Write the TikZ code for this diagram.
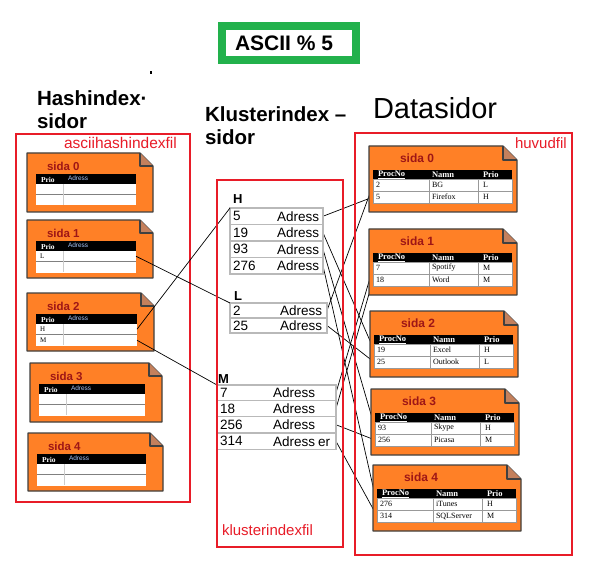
\documentclass[tikz,border=0pt]{standalone}
\usepackage{fontspec}
\setmainfont{Liberation Serif}
\setsansfont{Liberation Sans}
\usetikzlibrary{backgrounds}
\definecolor{pageor}{RGB}{255,128,38}
\definecolor{foldc}{RGB}{196,128,92}
\definecolor{pagegray}{RGB}{64,64,64}
\definecolor{sidared}{RGB}{158,22,22}
\definecolor{boxred}{RGB}{232,28,40}
\definecolor{grn}{RGB}{34,177,76}
\definecolor{adrblue}{RGB}{165,195,245}
\def\splitrow#1/#2/#3\endrow{\def\ca{#1}\def\cb{#2}\def\cc{#3}}
% hash page: name, x, y, w, h, label, row1, row2
\newcommand\hpg[8]{%
\begin{scope}[shift={(#2,#3)}]
 \draw[pageline,fill=pageor] (0,0) -- (#4-13,0) -- (#4,13) -- (#4,#5) -- (0,#5) -- cycle;
 \draw[pageline,fill=foldc] (#4-13,0) -- (#4-13,13) -- (#4,13);
 \node[hsida] (#1l) at (20,13) {#6};
 \node[fill=black,anchor=north west,minimum width=(#4-26)*1pt,minimum height=10pt] (#1h) at (9,21) {};
 \node[font=\bfseries\fontsize{7.5}{8}\selectfont,text=white,anchor=west] (#1hp) at (14,26.5) {Prio};
 \node[font=\sffamily\fontsize{6.5}{7}\selectfont,text=adrblue,anchor=west] (#1ha) at (41,25) {Adress};
 \node[hrowst,minimum width=(#4-26)*1pt] (#1a) at (9,31) {};
 \node[hrowst,minimum width=(#4-26)*1pt] (#1b) at (9,42) {};
 \draw[gray,line width=.9pt] (#1a.south west) -- (#1a.south east);
 \draw[gray!40,line width=.6pt] (36,31) -- (36,52);
 \node[hcell] (#1at) at (13,36.5) {#7};
 \node[hcell] (#1bt) at (13,47.5) {#8};
\end{scope}}
% data page: name, x, y, label, row1, row2
\newcommand\dpg[6]{%
\begin{scope}[shift={(#2,#3)}]
 \draw[pageline,fill=pageor] (0,0) -- (134,0) -- (148,14) -- (148,66) -- (0,66) -- cycle;
 \draw[pageline,fill=foldc] (134,0) -- (134,14) -- (148,14);
 \node[dsida] (#1l) at (31,12) {#4};
 \node[fill=black,anchor=north west,minimum width=139pt,minimum height=9pt] (#1h) at (4,24) {};
 \node[dhd] (#1hp) at (9,28.5) {\underline{ProcNo}};
 \node[dhd] (#1hn) at (63,28.5) {Namn};
 \node[dhd] (#1hr) at (114,28.5) {Prio};
 \splitrow#5\endrow
 \node[drowst] (dr\ca) at (4,33) {};
 \node[dcell] (dr\ca p) at (7,39) {\ca};
 \node[dcell] (dr\ca n) at (63,39) {\cb};
 \node[dcell] (dr\ca r) at (114,39) {\cc};
 \splitrow#6\endrow
 \node[drowst] (dr\ca) at (4,45) {};
 \node[dcell] (dr\ca p) at (7,51) {\ca};
 \node[dcell] (dr\ca n) at (63,51) {\cb};
 \node[dcell] (dr\ca r) at (114,51) {\cc};
 \draw[gray!80,line width=.8pt] (60,33) -- (60,57) (109,33) -- (109,57);
\end{scope}}
% kluster row: name, x, y, w, h, number, adress-offset, adress text
\newcommand\krow[8]{%
 \node[krowst,minimum width=#4pt,minimum height=#5pt] (#1) at (#2,#3) {};
 \node[ktext] (#1n) at ([xshift=3pt]#1.west) {#6};
 \node[ktext] (#1t) at ([xshift=#7pt]#1.west) {#8};
}
\begin{document}
\begin{tikzpicture}[x=1pt,y=-1pt,
  every node/.style={inner sep=0pt,outer sep=0pt},
  pageline/.style={draw=pagegray,line width=1.1pt,line join=round},
  redbox/.style={draw=boxred,line width=1.1pt,anchor=north west},
  redlbl/.style={font=\sffamily\fontsize{15.5}{17}\selectfont,text=boxred,anchor=west},
  hsida/.style={font=\sffamily\bfseries\fontsize{11.5}{13}\selectfont,text=sidared,anchor=west},
  dsida/.style={font=\sffamily\bfseries\fontsize{12}{13}\selectfont,text=sidared,anchor=west},
  hrowst/.style={fill=white,anchor=north west,minimum height=10.5pt},
  hcell/.style={font=\fontsize{7}{8}\selectfont,anchor=west},
  dhd/.style={font=\bfseries\fontsize{8.5}{9}\selectfont,text=white,anchor=west},
  dcell/.style={font=\fontsize{8}{9}\selectfont,anchor=west},
  drowst/.style={fill=white,draw=gray!80,line width=.8pt,anchor=north west,minimum height=12pt,minimum width=139pt},
  krowst/.style={draw=gray!55,line width=1.3pt,anchor=north west},
  ktext/.style={font=\sffamily\fontsize{13.5}{15}\selectfont,anchor=west},
  klbl/.style={font=\sffamily\bfseries\fontsize{13}{15}\selectfont,anchor=base west},
  head/.style={font=\sffamily\bfseries\fontsize{20.5}{23}\selectfont,anchor=base west,align=left},
  conn/.style={draw=black,line width=0.7pt},
]
\useasboundingbox (0,0) rectangle (597,580);
\begin{pgfonlayer}{background}
\fill[white] (0,0) rectangle (597,580);
\end{pgfonlayer}

% title box
\node[draw=grn,line width=8pt,minimum width=134pt,minimum height=34pt] (title) at (289,43) {};
\node[font=\sffamily\bfseries\fontsize{21}{23}\selectfont,anchor=west] (titletxt) at (235,43) {ASCII \% 5};
\fill (150,71) rectangle (152,74);

% headings (anchor at baseline of last line)
\node[head] (hhead) at (37,129) {Hashindex·\\sidor};
\node[head] (khead) at (205,145) {Klusterindex –\\sidor};
\node[font=\sffamily\fontsize{29}{31}\selectfont,anchor=base west] (dtitle) at (373,119) {Datasidor};

% red boxes
\node[redbox,minimum width=174pt,minimum height=368pt] (hbox) at (16,134) {};
\node[redlbl] (hboxl) at (64,143) {asciihashindexfil};
\node[redbox,minimum width=217pt,minimum height=422pt] (dbox) at (355,133) {};
\node[redlbl,font=\sffamily\fontsize{15}{17}\selectfont] (dboxl) at (515,143) {huvudfil};

% hash index pages
\hpg{h0}{27}{153}{126}{59}{sida 0}{}{}
\hpg{h1}{27}{220}{126}{58}{sida 1}{L}{}
\hpg{h2}{27}{293}{127}{58}{sida 2}{H}{M}
\hpg{h3}{30}{363}{132}{59}{sida 3}{}{}
\hpg{h4}{28}{433}{135}{58}{sida 4}{}{}

% kluster index
\node[klbl] (kH) at (233,204) {H};
\krow{k5}{230}{208}{93}{16.5}{5}{47}{Adress}
\krow{k19}{230}{224.5}{93}{16.5}{19}{47}{Adress}
\krow{k93}{230}{241}{93}{16.5}{93}{47}{Adress}
\krow{k276}{230}{257.5}{93}{16.5}{276}{47}{Adress}
\node[klbl] (kL) at (234,300) {L};
\krow{k2}{230}{303}{97}{15}{2}{50}{Adress}
\krow{k25}{230}{318}{97}{15}{25}{50}{Adress}
\node[klbl] (kM) at (218,383) {M};
\krow{k7}{217}{385}{119}{15.5}{7}{56}{Adress}
\krow{k18}{217}{400.5}{119}{16}{18}{56}{Adress}
\krow{k256}{217}{416.5}{119}{16.5}{256}{56}{Adress}
\krow{k314}{217}{433}{119}{16.5}{314}{56}{Adress\kern3pt er}

% data pages
\dpg{p0}{369}{146}{sida 0}{2/BG/L}{5/Firefox/H}
\dpg{p1}{369}{229}{sida 1}{7/Spotify/M}{18/Word/M}
\dpg{p2}{370}{311}{sida 2}{19/Excel/H}{25/Outlook/L}
\dpg{p3}{371}{389}{sida 3}{93/Skype/H}{256/Picasa/M}
\dpg{p4}{373}{465}{sida 4}{276/iTunes/H}{314/SQLServer/M}

% connectors hash -> kluster
\draw[conn] (h1a.east) -- (k2.north west);
\draw[conn] (h2a.east) -- (k5.north west);
\draw[conn] (h2b.east) -- (k7.north west);

% connectors kluster -> data (under pages)
\begin{pgfonlayer}{background}
\foreach \k in {5,19,93,276,2,25,7,18,256,314}
  \draw[conn] (k\k.east) -- (dr\k.west);
\end{pgfonlayer}

% kluster file box (drawn last so its red shows on top)
\node[redbox,minimum width=126pt,minimum height=367pt] (kbox) at (217,180) {};
\node[redlbl,font=\sffamily\fontsize{15}{17}\selectfont] (kboxl) at (222,530) {klusterindexfil};
\end{tikzpicture}
\end{document}
